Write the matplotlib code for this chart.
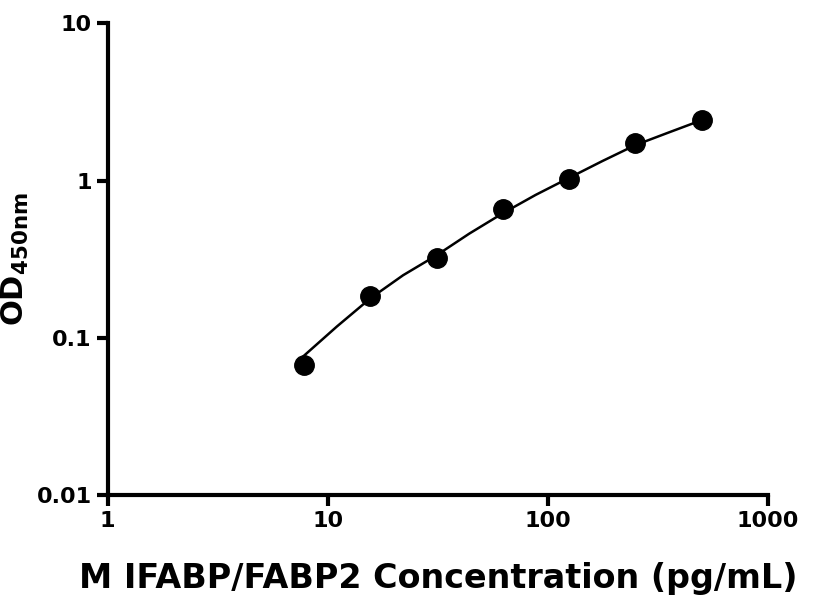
import matplotlib
matplotlib.use('Agg')
import matplotlib.pyplot as plt

# 标准品浓度与 OD 值
conc = [7.8, 15.6, 31.25, 62.5, 125, 250, 500]
od = [0.067, 0.185, 0.32, 0.66, 1.02, 1.72, 2.42]
# 拟合曲线
curve_x = [7.8, 11, 15.6, 22, 31.25, 44, 62.5, 88, 125, 177, 250, 354, 500]
curve_y = [0.077, 0.118, 0.178, 0.250, 0.335, 0.460, 0.62, 0.81, 1.04, 1.33, 1.68, 2.02, 2.42]

fig = plt.figure(figsize=(8.16, 6.12), dpi=100)
ax = fig.add_axes([0.132, 0.191, 0.809, 0.771])

ax.plot(curve_x, curve_y, color='black', lw=1.8)
ax.plot(conc, od, 'o', color='black', ms=14)

ax.set_xscale('log')
ax.set_yscale('log')
ax.set_xlim(1, 1000)
ax.set_ylim(0.01, 10)
ax.set_xticks([1, 10, 100, 1000])
ax.set_xticklabels(['1', '10', '100', '1000'])
ax.set_yticks([0.01, 0.1, 1, 10])
ax.set_yticklabels(['0.01', '0.1', '1', '10'])
ax.minorticks_off()

for s in ['top', 'right']:
    ax.spines[s].set_visible(False)
for s in ['left', 'bottom']:
    ax.spines[s].set_linewidth(3)
ax.tick_params(width=3, length=8, labelsize=16)
for lab in ax.get_xticklabels() + ax.get_yticklabels():
    lab.set_fontweight('bold')

ax.set_xlabel('M IFABP/FABP2 Concentration (pg/mL)', fontsize=24, fontweight='bold', labelpad=22)
ax.set_ylabel(r'OD$_{\mathbf{450nm}}$', fontsize=22, fontweight='bold', labelpad=4)

fig.savefig('out.png', dpi=100)
